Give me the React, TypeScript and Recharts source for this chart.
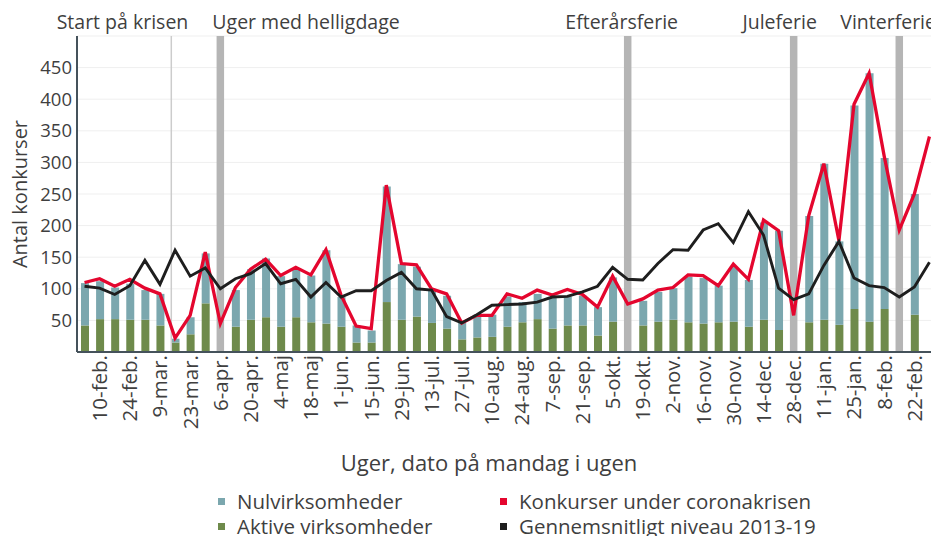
import React from 'react';
import {
  ComposedChart,
  Bar,
  Line,
  XAxis,
  YAxis,
  CartesianGrid,
  ReferenceLine,
  Legend,
} from 'recharts';

// ---------- data ----------
const weeks = [
  '3-feb.', '10-feb.', '17-feb.', '24-feb.', '2-mar.', '9-mar.', '16-mar.', '23-mar.', '30-mar.', '6-apr.',
  '13-apr.', '20-apr.', '27-apr.', '4-maj', '11-maj', '18-maj', '25-maj', '1-jun.', '8-jun.', '15-jun.',
  '22-jun.', '29-jun.', '6-jul.', '13-jul.', '20-jul.', '27-jul.', '3-aug.', '10-aug.', '17-aug.', '24-aug.',
  '31-aug.', '7-sep.', '14-sep.', '21-sep.', '28-sep.', '5-okt.', '12-okt.', '19-okt.', '26-okt.', '2-nov.',
  '9-nov.', '16-nov.', '23-nov.', '30-nov.', '7-dec.', '14-dec.', '21-dec.', '28-dec.', '4-jan.', '11-jan.',
  '18-jan.', '25-jan.', '1-feb.', '8-feb.', '15-feb.', '22-feb.', '1-mar.',
];

// Aktive virksomheder (green, bottom of stack)
const aktive = [
  42, 52, 52, 51, 51, 42, 15, 28, 77, null,
  40, 51, 55, 40, 55, 47, 45, 40, 15, 15,
  79, 51, 56, 46, 37, 20, 23, 24, 40, 47,
  52, 37, 42, 42, 26, 48, null, 42, 48, 51,
  47, 45, 47, 48, 40, 51, 35, null, 47, 51,
  43, 68, 48, 68, null, 59, null,
];

// Nulvirksomheder (teal, top of stack)
const nul = [
  67, 60, 50, 57, 47, 50, 6, 27, 79, null,
  58, 80, 93, 80, 76, 74, 116, 47, 27, 19,
  183, 88, 79, 51, 52, 26, 36, 35, 48, 32,
  40, 50, 46, 47, 45, 70, null, 39, 47, 50,
  72, 72, 58, 87, 74, 154, 157, null, 168, 247,
  132, 322, 393, 239, null, 191, null,
];

// Konkurser under coronakrisen (red line)
const konkurser = [
  110, 116, 104, 115, 101, 92, 22, 58, 158, 45,
  102, 131, 147, 121, 134, 122, 162, 90, 41, 37,
  264, 140, 138, 100, 92, 46, 58, 58, 92, 85,
  98, 90, 99, 91, 71, 120, 76, 84, 98, 102,
  122, 121, 105, 139, 115, 209, 192, 58, 216, 298,
  176, 392, 441, 310, 193, 250, 341,
];

// Gennemsnitligt niveau 2013-19 (black line)
const gennemsnit = [
  104, 101, 91, 105, 145, 107, 161, 120, 133, 100,
  116, 124, 140, 108, 115, 87, 110, 87, 97, 97,
  113, 126, 100, 98, 56, 46, 59, 74, 75, 76,
  79, 87, 88, 95, 104, 134, 115, 114, 140, 162,
  161, 193, 203, 173, 222, 185, 101, 83, 92, 137,
  175, 117, 105, 102, 87, 103, 142,
];

const tickLabels = [
  '10-feb.', '24-feb.', '9-mar.', '23-mar.', '6-apr.', '20-apr.', '4-maj', '18-maj', '1-jun.', '15-jun.',
  '29-jun.', '13-jul.', '27-jul.', '10-aug.', '24-aug.', '7-sep.', '21-sep.', '5-okt.', '19-okt.', '2-nov.',
  '16-nov.', '30-nov.', '14-dec.', '28-dec.', '11-jan.', '25-jan.', '8-feb.', '22-feb.',
];

const yTicks = [50, 100, 150, 200, 250, 300, 350, 400, 450];

// marker weeks
const crisisLabel = 'Start på krisen';
const crisisPosition = 5.75; // between 9-mar. and 16-mar.
const holidayWeeks = ['6-apr.', '12-okt.', '28-dec.', '15-feb.'];
const holidayLabels = ['Uger med helligdage', 'Efterårsferie', 'Juleferie', 'Vinterferie'];

const seriesNames = {
  nul: 'Nulvirksomheder',
  aktive: 'Aktive virksomheder',
  konkurser: 'Konkurser under coronakrisen',
  gennemsnit: 'Gennemsnitligt niveau 2013-19',
};

// ---------- styles ----------
const FONT = '"Open Sans", "Noto Sans", sans-serif';
const TEXT = '#3f3f3f';
const TEAL = '#7ba7ae';
const GREEN = '#6e8a4b';
const RED = '#e4062e';
const BLACK = '#1e1e1e';
const HOLIDAY = '#b5b5b5';
const CRISIS = '#cccccc';
const AXIS = '#45525b';

const labelStyle: Record<string, { anchor: 'start' | 'middle' | 'end'; dx: number }> = {
  'Start på krisen': { anchor: 'end', dx: 17 },
  'Uger med helligdage': { anchor: 'start', dx: -8 },
  'Efterårsferie': { anchor: 'middle', dx: -6 },
  'Juleferie': { anchor: 'middle', dx: -14 },
  'Vinterferie': { anchor: 'start', dx: -59 },
};

const data = weeks.map((w, i) => ({
  idx: i,
  week: w,
  aktive: aktive[i],
  nul: nul[i],
  konkurser: konkurser[i],
  gennemsnit: gennemsnit[i],
}));

const tickIdx = tickLabels.map((t) => weeks.indexOf(t));

const XTick = (props: any) => {
  const { x, y, payload } = props;
  return (
    <text
      x={x}
      y={y}
      transform={`rotate(-90 ${x} ${y})`}
      textAnchor="end"
      dy="0.36em"
      fill={TEXT}
      fontSize={20.5}
      fontFamily={FONT}
    >
      {weeks[payload.value]}
    </text>
  );
};

const MarkerLabel = (props: any) => {
  const { viewBox, text } = props;
  const st = labelStyle[text];
  return (
    <text
      x={viewBox.x + st.dx}
      y={29}
      textAnchor={st.anchor}
      fill={TEXT}
      fontSize={19.5}
      fontFamily={FONT}
    >
      {text}
    </text>
  );
};

const legendItems = [
  { name: seriesNames.nul, color: TEAL },
  { name: seriesNames.konkurser, color: RED },
  { name: seriesNames.aktive, color: GREEN },
  { name: seriesNames.gennemsnit, color: BLACK },
];

const LegendContent = () => (
  <div
    style={{
      display: 'grid',
      gridTemplateColumns: '282px 340px',
      fontFamily: FONT,
      fontSize: 20.5,
      lineHeight: '25px',
      color: TEXT,
    }}
  >
    {legendItems.map((it) => (
      <div key={it.name} style={{ display: 'flex', alignItems: 'center', whiteSpace: 'nowrap' }}>
        <span
          style={{ display: 'inline-block', width: 7, height: 7, background: it.color, marginRight: 12 }}
        />
        {it.name}
      </div>
    ))}
  </div>
);

export default function App() {
  return (
    <div
      style={{
        position: 'fixed',
        left: 0,
        top: 0,
        width: 931,
        height: 536,
        overflow: 'hidden',
        background: '#ffffff',
        fontFamily: FONT,
      }}
    >
      <ComposedChart
        width={940}
        height={536}
        data={data}
        margin={{ top: 36, right: 3, left: 0, bottom: 0 }}
        style={{ fontFamily: FONT }}
      >
        <CartesianGrid horizontal vertical={false} stroke="#efefef" strokeWidth={1} />
        <XAxis
          type="number"
          dataKey="idx"
          domain={[-0.5, 56.5]}
          ticks={tickIdx}
          interval={0}
          height={184}
          tickLine={false}
          tickSize={0}
          tickMargin={3}
          axisLine={{ stroke: AXIS, strokeWidth: 2 }}
          tick={<XTick />}
          label={{
            content: (p: any) => (
              <text
                x={p.viewBox.x + p.viewBox.width / 2 - 18}
                y={p.viewBox.y + 111}
                textAnchor="middle"
                dy="0.35em"
                fill={TEXT}
                fontSize={22}
                fontFamily={FONT}
              >
                Uger, dato på mandag i ugen
              </text>
            ),
          }}
        />
        <YAxis
          type="number"
          domain={[0, 500]}
          ticks={yTicks}
          interval={0}
          width={77}
          tickLine={false}
          tickSize={0}
          tickMargin={5}
          axisLine={{ stroke: AXIS, strokeWidth: 2 }}
          tick={{ fill: TEXT, fontSize: 18.5, fontFamily: FONT }}
          label={{
            content: (p: any) => {
              const cx = 20;
              const cy = p.viewBox.y + p.viewBox.height / 2;
              return (
                <text
                  x={cx}
                  y={cy}
                  transform={`rotate(-90 ${cx} ${cy})`}
                  textAnchor="middle"
                  dy="0.35em"
                  fill={TEXT}
                  fontSize={20}
                  fontFamily={FONT}
                >
                  Antal konkurser
                </text>
              );
            },
          }}
        />
        <ReferenceLine
          x={crisisPosition}
          stroke={CRISIS}
          strokeWidth={1.5}
          label={<MarkerLabel text={crisisLabel} />}
        />
        {holidayWeeks.map((w, i) => (
          <ReferenceLine
            key={w}
            x={weeks.indexOf(w)}
            stroke={HOLIDAY}
            strokeWidth={7.5}
            label={<MarkerLabel text={holidayLabels[i]} />}
          />
        ))}
        <Bar dataKey="aktive" name={seriesNames.aktive} stackId="s" fill={GREEN} barSize={8} isAnimationActive={false} />
        <Bar dataKey="nul" name={seriesNames.nul} stackId="s" fill={TEAL} barSize={8} isAnimationActive={false} />
        <Line
          type="linear"
          dataKey="konkurser"
          name={seriesNames.konkurser}
          stroke={RED}
          strokeWidth={3.3}
          dot={false}
          activeDot={false}
          isAnimationActive={false}
        />
        <Line
          type="linear"
          dataKey="gennemsnit"
          name={seriesNames.gennemsnit}
          stroke={BLACK}
          strokeWidth={2.9}
          dot={false}
          activeDot={false}
          isAnimationActive={false}
        />
        <Legend
          layout="horizontal"
          verticalAlign="middle"
          align="center"
          content={<LegendContent />}
          wrapperStyle={{ left: 218, top: 489, width: 640, height: 52 }}
        />
      </ComposedChart>
    </div>
  );
}
